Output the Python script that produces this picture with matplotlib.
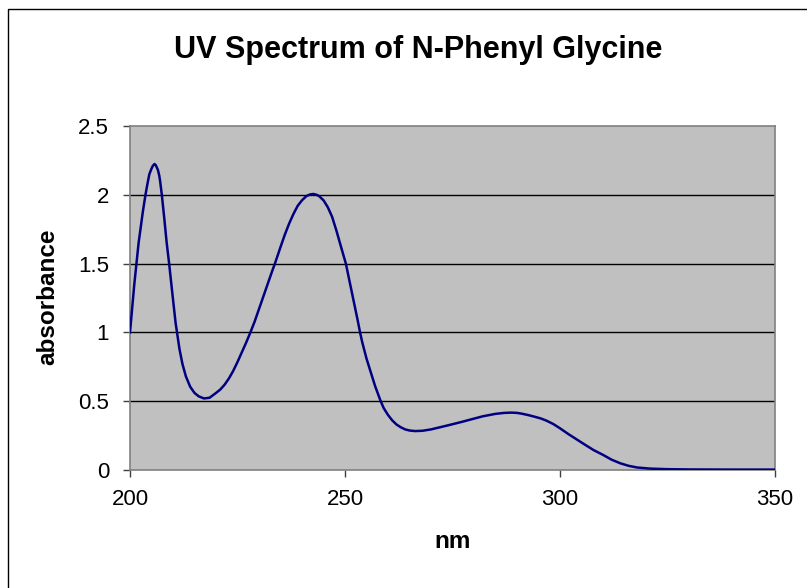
import numpy as np
import matplotlib.pyplot as plt
from matplotlib.patches import Rectangle

# wavelength (nm) and absorbance
nm = [200, 201, 201.5, 202, 203, 203.6, 204, 204.5, 205, 205.3, 205.7, 206, 206.5,
      206.8, 207, 207.4, 208, 208.5, 209.1, 210, 210.6, 211.5, 212.2, 213, 214, 215,
      216, 217.2, 218.5, 220, 221, 222, 223, 224, 225, 226, 227, 228, 229, 230, 231,
      232, 233, 233.7, 235, 236, 237, 238, 239, 240, 241, 241.8, 242.6, 243.4, 244,
      245, 246, 247, 248, 249, 250.2, 251, 252, 253, 253.5, 254, 255, 256, 256.6, 257,
      258.3, 259, 260, 261, 262, 263, 264, 265, 266.3, 268, 270, 272, 274, 276.7, 279,
      282, 285, 287, 288.7, 290, 291, 292.5, 294, 295.5, 296.9, 298.5, 300, 302, 304,
      306, 307.8, 310, 312, 314, 316, 318, 321, 325, 330, 340, 350]
absorbance = [1.00, 1.35, 1.50, 1.65, 1.88, 2.00, 2.07, 2.15, 2.19, 2.21, 2.224, 2.215, 2.18,
              2.14, 2.10, 2.00, 1.82, 1.66, 1.50, 1.24, 1.07, 0.88, 0.77, 0.68, 0.605, 0.56,
              0.535, 0.52, 0.525, 0.56, 0.585, 0.62, 0.665, 0.72, 0.785, 0.855, 0.925, 1.00, 1.08, 1.17, 1.26,
              1.35, 1.44, 1.50, 1.62, 1.71, 1.79, 1.86, 1.92, 1.96, 1.99, 2.002, 2.006, 2.0, 1.99,
              1.96, 1.91, 1.84, 1.74, 1.63, 1.50, 1.38, 1.23, 1.08, 1.00, 0.93, 0.81, 0.71, 0.65, 0.61,
              0.50, 0.45, 0.40, 0.36, 0.33, 0.31, 0.295, 0.287, 0.283, 0.285, 0.295, 0.31, 0.325, 0.346, 0.365,
              0.39, 0.408, 0.415, 0.417, 0.415, 0.41, 0.40, 0.388, 0.375, 0.358, 0.333, 0.303, 0.26, 0.22,
              0.18, 0.145, 0.11, 0.075, 0.049, 0.03, 0.018, 0.01, 0.006, 0.004, 0.003, 0.003]

xticks = [200, 250, 300, 350]
yticks = [0, 0.5, 1, 1.5, 2, 2.5]
ytick_labels = ['0', '0.5', '1', '1.5', '2', '2.5']

plt.rcParams['font.family'] = ['Liberation Sans', 'DejaVu Sans']

fig = plt.figure(figsize=(8.07, 5.88), dpi=100)
ax = fig.add_axes([130/807, 1 - 470/588, 645/807, 344/588])

# outer chart border (runs off right and bottom edges)
fig.patches.append(Rectangle((8/807, -0.1), 1.2, 1 - 9/588 + 0.1,
                             transform=fig.transFigure, fill=False,
                             edgecolor='black', linewidth=1.0))

ax.set_facecolor('#c0c0c0')
ax.plot(nm, absorbance, color='#000080', linewidth=1.8, zorder=3,
        solid_joinstyle='round')

ax.set_xlim(200, 350)
ax.set_ylim(0, 2.5)
ax.set_xticks(xticks)
ax.set_xticklabels([str(x) for x in xticks])
ax.set_yticks(yticks)
ax.set_yticklabels(ytick_labels)

for y in yticks[1:-1]:
    ax.axhline(y, color='black', linewidth=1.0, zorder=2)

for s in ax.spines.values():
    s.set_color('#808080')
    s.set_linewidth(1.2)

ax.tick_params(axis='both', direction='out', length=5, width=1,
               color='#404040', labelsize=16, labelcolor='black')
ax.tick_params(axis='y', pad=10)
ax.tick_params(axis='x', pad=9)

fig.text(418/807, 1 - 50/588, 'UV Spectrum of N-Phenyl Glycine',
         ha='center', va='center', fontsize=22, fontweight='bold')
fig.text(453/807, 1 - 548/588, 'nm', ha='center', va='baseline',
         fontsize=17.5, fontweight='bold')
fig.text(48/807, 1 - 297/588, 'absorbance', ha='center', va='center',
         fontsize=17.5, fontweight='bold', rotation=90)

plt.savefig('out.png', dpi=100)
